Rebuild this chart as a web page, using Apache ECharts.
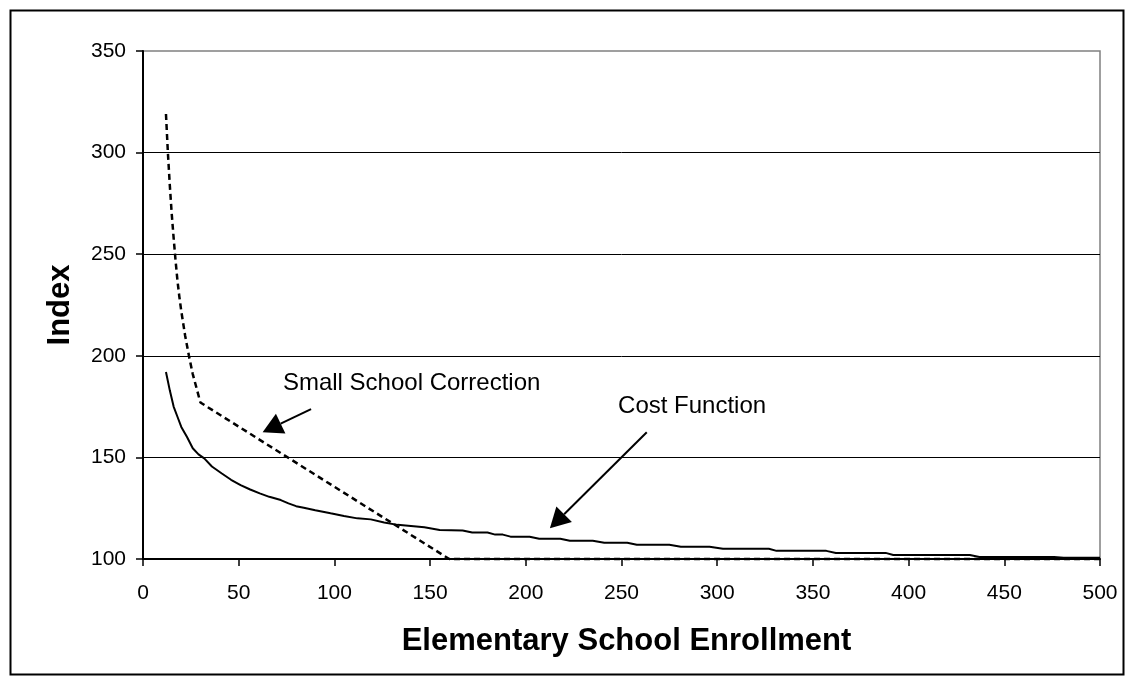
<!DOCTYPE html>
<html>
<head>
<meta charset="utf-8">
<script src="https://cdn.jsdelivr.net/npm/echarts@6/dist/echarts.min.js"></script>
<style>
  html, body { margin: 0; padding: 0; background: #fff; }
  #chart { width: 1129px; height: 680px; }
</style>
</head>
<body>
<div id="chart"></div>
<script>
// Cost function index by enrollment
const costEnroll = [12, 14, 16, 18, 20, 23, 26, 29, 32, 36, 41, 46, 51, 56, 61, 66, 72, 76, 80, 84, 90, 98, 105, 112, 119, 126, 133, 140, 147, 155, 167, 172, 180, 184, 188, 192, 202, 207, 218, 223, 235, 241, 253, 258, 275, 281, 296, 303, 327, 331, 357, 362, 388, 392, 432, 437, 476, 481, 500];
const costIndex = [192, 183, 175, 170, 165, 160, 154.5, 151.5, 149.5, 145.5, 142.2, 139, 136.4, 134.2, 132.3, 130.6, 129, 127.4, 126, 125.2, 124, 122.5, 121.2, 120, 119.5, 118, 116.8, 116.2, 115.6, 114.3, 114, 113, 113, 112, 112, 111, 111, 110, 110, 109, 109, 108, 108, 107, 107, 106, 106, 105, 105, 104, 104, 103, 103, 102, 102, 101, 101, 100.6, 100.6];

// Small school correction index by enrollment
const smallEnroll = [12, 13, 14, 15, 16, 17, 18, 19, 20, 22, 24, 26, 28, 30, 160, 500];
const smallIndex = [319, 300, 284, 270, 258, 247, 237, 229, 222, 210, 200, 191, 184, 177, 100, 100];

// Axis ticks
const xTicks = { min: 0, max: 500, step: 50 };
const yTicks = { min: 100, max: 350, step: 50 };

// Callouts: label anchor and arrow (start -> tip), in data units
const callouts = [
  { text: 'Small School Correction', at: [73.1, 186.6], from: [87.8, 173.8], to: [62.5, 162.4] },
  { text: 'Cost Function', at: [248.2, 175.0], from: [263.2, 162.4], to: [212.6, 115.1] }
];

const FONT = '"Liberation Sans", Arial, sans-serif';
const HEAD_LEN = 20;
const HEAD_HALF_W = 11;

function pairs(xs, ys) { return xs.map((x, i) => [x, ys[i]]); }

const chart = echarts.init(document.getElementById('chart'), null, { renderer: 'canvas' });

const axisCommon = {
  type: 'value',
  axisLine: { show: true, lineStyle: { color: '#000', width: 2 } },
  axisTick: { show: true, inside: false, length: 7, lineStyle: { color: '#000', width: 1.5 } },
  axisLabel: { color: '#000', fontFamily: FONT, fontSize: 21 },
  nameLocation: 'middle',
  nameTextStyle: { color: '#000', fontFamily: FONT, fontSize: 31, fontWeight: 'bold' }
};

chart.setOption({
  animation: false,
  backgroundColor: '#fff',
  grid: {
    left: 143, right: 29, top: 51, bottom: 121,
    show: true, borderColor: '#808080', borderWidth: 1.5, backgroundColor: 'transparent'
  },
  xAxis: Object.assign({}, axisCommon, {
    min: xTicks.min, max: xTicks.max, interval: xTicks.step,
    name: 'Elementary School Enrollment', nameGap: 67,
    nameTextStyle: Object.assign({}, axisCommon.nameTextStyle, { padding: [0, 0, 0, 10] }),
    axisLabel: Object.assign({}, axisCommon.axisLabel, { margin: 24 }),
    splitLine: { show: false }
  }),
  yAxis: Object.assign({}, axisCommon, {
    min: yTicks.min, max: yTicks.max, interval: yTicks.step,
    name: 'Index', nameGap: 67,
    axisLabel: Object.assign({}, axisCommon.axisLabel, { margin: 17 }),
    splitLine: { show: true, showMinLine: false, showMaxLine: false, lineStyle: { color: '#000', width: 1 } }
  }),
  series: [
    {
      name: 'Cost Function',
      type: 'line',
      data: pairs(costEnroll, costIndex),
      showSymbol: false,
      clip: false,
      lineStyle: { color: '#000', width: 2 },
      z: 3
    },
    {
      name: 'Small School Correction',
      type: 'line',
      data: pairs(smallEnroll, smallIndex),
      showSymbol: false,
      clip: false,
      lineStyle: { color: '#000', width: 2.5, type: [6, 4] },
      z: 3
    }
  ]
});

// Callout labels, arrows and the page frame
function placeGraphics() {
  const els = [
    { type: 'rect', left: 8, top: 8, shape: { width: 1113, height: 664 },
      style: { fill: 'none', stroke: '#000', lineWidth: 2 }, z: 20 }
  ];
  callouts.forEach(c => {
    const p = chart.convertToPixel({ gridIndex: 0 }, c.at);
    els.push({
      type: 'text', x: p[0], y: p[1],
      style: { text: c.text, fill: '#000', font: '24px ' + FONT, textAlign: 'left', textVerticalAlign: 'middle' },
      z: 10
    });
    const a = chart.convertToPixel({ gridIndex: 0 }, c.from);
    const b = chart.convertToPixel({ gridIndex: 0 }, c.to);
    const dx = b[0] - a[0], dy = b[1] - a[1];
    const len = Math.hypot(dx, dy);
    const ux = dx / len, uy = dy / len;
    const bx = b[0] - ux * HEAD_LEN, by = b[1] - uy * HEAD_LEN;
    els.push({
      type: 'line', shape: { x1: a[0], y1: a[1], x2: bx, y2: by },
      style: { stroke: '#000', lineWidth: 2 }, z: 10
    });
    els.push({
      type: 'polygon',
      shape: { points: [
        [b[0], b[1]],
        [bx - uy * HEAD_HALF_W, by + ux * HEAD_HALF_W],
        [bx + uy * HEAD_HALF_W, by - ux * HEAD_HALF_W]
      ] },
      style: { fill: '#000' }, z: 10
    });
  });
  chart.setOption({ graphic: els });
}
placeGraphics();
</script>
</body>
</html>
